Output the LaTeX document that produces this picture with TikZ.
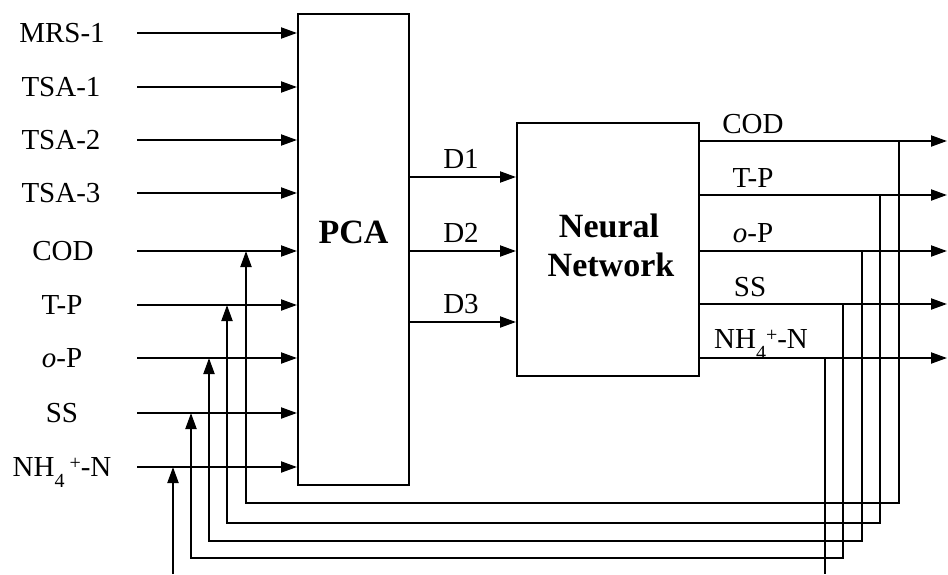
\documentclass[tikz,border=0pt]{standalone}
\usepackage{fontspec}
\setmainfont{Liberation Serif}
\usetikzlibrary{arrows.meta}
\newcommand\ammon[1]{NH\raisebox{-11pt}{\fontsize{20}{20}\selectfont 4}\hspace{#1}\raisebox{7pt}{\fontsize{20}{20}\selectfont +}-N}
\begin{document}
\begin{tikzpicture}[x=1pt,y=-1pt,line width=2pt,
  >={Triangle[length=16pt,width=11pt]},
  lbl/.style={font=\fontsize{29}{32}\selectfont,inner sep=0pt,anchor=base},
  boxnode/.style={draw,inner sep=0pt},
  bold/.style={font=\fontsize{34}{38}\selectfont\bfseries,inner sep=0pt,anchor=base}]
\useasboundingbox (0,0) rectangle (948,574);
% boxes
\node[boxnode,minimum width=111pt,minimum height=471pt] (pca) at (353.5,249.5) {};
\node[boxnode,minimum width=182pt,minimum height=253pt] (nn) at (608,249.5) {};
\node[bold] (tpca) at (353.5,243) {PCA};
\node[bold] (tnn1) at (609,237) {Neural};
\node[bold] (tnn2) at (611,276) {Network};
% input labels
\node[lbl] (lmrs) at (62,42) {MRS-1};
\node[lbl] (ltsa1) at (61,96) {TSA-1};
\node[lbl] (ltsa2) at (61,149) {TSA-2};
\node[lbl] (ltsa3) at (61,202) {TSA-3};
\node[lbl] (lcod) at (63,260) {COD};
\node[lbl] (ltp) at (62,314) {T-P};
\node[lbl] (lop) at (62,367) {\textit{o}-P};
\node[lbl] (lss) at (62,422) {SS};
\node[lbl] (lnh) at (62,476) {\ammon{5pt}};
% input line starts
\coordinate (i1) at (137,33);
\coordinate (i2) at (137,87);
\coordinate (i3) at (137,140);
\coordinate (i4) at (137,193);
\coordinate (i5) at (137,251);
\coordinate (i6) at (137,305);
\coordinate (i7) at (137,358);
\coordinate (i8) at (137,413);
\coordinate (i9) at (137,467);
\foreach \k in {1,...,9} {\draw[->] (i\k) -- (i\k -| pca.west);}
% D lines
\coordinate (d1) at (409,177);
\coordinate (d2) at (409,251);
\coordinate (d3) at (409,322);
\foreach \k in {1,2,3} {\draw[->] (d\k) -- (d\k -| nn.west);}
\node[lbl] (ld1) at (461,168) {D1};
\node[lbl] (ld2) at (461,242) {D2};
\node[lbl] (ld3) at (461,313) {D3};
% outputs
\coordinate (o1) at (947,141);
\coordinate (o2) at (947,195);
\coordinate (o3) at (947,251);
\coordinate (o4) at (947,304);
\coordinate (o5) at (947,358);
\foreach \k in {1,...,5} {\draw[->] (o\k -| nn.east) -- (o\k);}
\node[lbl] (rcod) at (753,133) {COD};
\node[lbl] (rtp) at (753,187) {T-P};
\node[lbl] (rop) at (753,242) {\textit{o}-P};
\node[lbl] (rss) at (750,296) {SS};
\node[lbl] (rnh) at (761,348) {\ammon{0pt}};
% feedback
\coordinate (t1) at (899,141);
\coordinate (t2) at (880,195);
\coordinate (t3) at (862,251);
\coordinate (t4) at (843,304);
\coordinate (t5) at (825,358);
\coordinate (c1) at (899,503);
\coordinate (c2) at (880,523);
\coordinate (c3) at (862,541);
\coordinate (c4) at (843,558);
\coordinate (c5) at (825,574);
\coordinate (f1) at (246,251);
\coordinate (f2) at (227,305);
\coordinate (f3) at (209,358);
\coordinate (f4) at (191,413);
\coordinate (f5) at (173,467);
\coordinate (b5) at (173,574);
\foreach \k in {1,...,4} {\draw[->] (t\k) -- (c\k) -| (f\k);}
\draw (t5) -- (c5);
\draw[->] (b5) -- (f5);
\end{tikzpicture}
\end{document}
